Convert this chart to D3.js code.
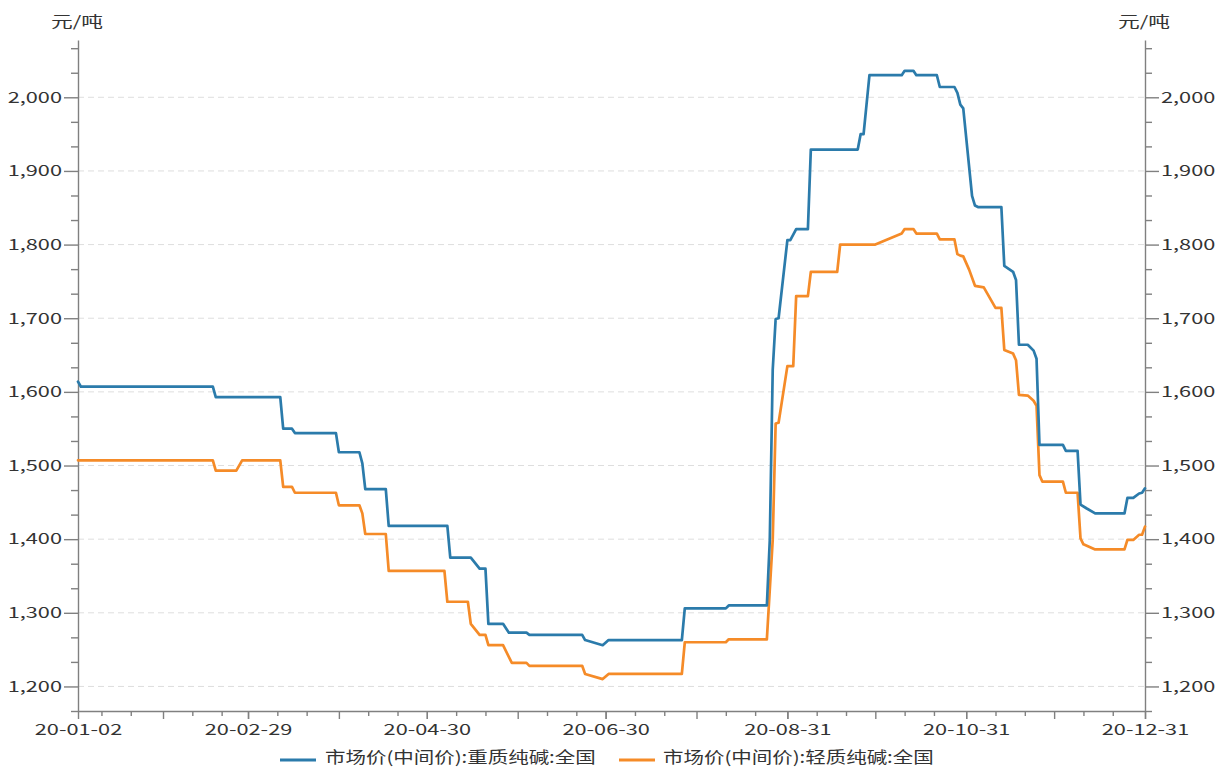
<!DOCTYPE html>
<html><head><meta charset="utf-8">
<script src="https://cdn.jsdelivr.net/npm/d3@7"></script>
<style>body{margin:0;background:#fff} svg{display:block}</style>
</head><body>
<svg id="chart" width="1215" height="767"></svg>
<script>
// ---------------- data ----------------
const heavyDates = ["2020-01-02","2020-01-03","2020-02-17","2020-02-18","2020-03-11","2020-03-12","2020-03-15","2020-03-16","2020-03-30","2020-03-31","2020-04-07","2020-04-08","2020-04-09","2020-04-16","2020-04-17","2020-05-07","2020-05-08","2020-05-15","2020-05-18","2020-05-20","2020-05-21","2020-05-26","2020-05-28","2020-06-03","2020-06-04","2020-06-22","2020-06-23","2020-06-29","2020-07-01","2020-07-26","2020-07-27","2020-08-10","2020-08-11","2020-08-24","2020-08-25","2020-08-26","2020-08-27","2020-08-28","2020-08-31","2020-09-01","2020-09-03","2020-09-07","2020-09-08","2020-09-24","2020-09-25","2020-09-26","2020-09-28","2020-10-09","2020-10-10","2020-10-13","2020-10-14","2020-10-21","2020-10-22","2020-10-27","2020-10-28","2020-10-29","2020-10-30","2020-11-02","2020-11-03","2020-11-04","2020-11-12","2020-11-13","2020-11-16","2020-11-17","2020-11-18","2020-11-21","2020-11-23","2020-11-24","2020-11-25","2020-12-03","2020-12-04","2020-12-08","2020-12-09","2020-12-11","2020-12-14","2020-12-24","2020-12-25","2020-12-27","2020-12-29","2020-12-30","2020-12-31"];
const heavyValues = [1614,1607,1607,1593,1593,1550,1550,1544,1544,1518,1518,1503,1468,1468,1418,1418,1375,1375,1360,1360,1285,1285,1273,1273,1270,1270,1263,1256,1263,1263,1306,1306,1310,1310,1399,1630,1699,1700,1806,1806,1821,1821,1929,1929,1950,1950,2030,2030,2036,2036,2030,2030,2014,2014,2006,1990,1985,1866,1853,1851,1851,1771,1763,1752,1664,1664,1656,1645,1528,1528,1520,1520,1447,1442,1435,1435,1456,1456,1462,1463,1469];

const lightDates = ["2020-01-02","2020-02-17","2020-02-18","2020-02-25","2020-02-27","2020-03-11","2020-03-12","2020-03-15","2020-03-16","2020-03-30","2020-03-31","2020-04-07","2020-04-08","2020-04-09","2020-04-16","2020-04-17","2020-05-06","2020-05-07","2020-05-14","2020-05-15","2020-05-18","2020-05-20","2020-05-21","2020-05-26","2020-05-29","2020-06-03","2020-06-04","2020-06-22","2020-06-23","2020-06-29","2020-07-01","2020-07-26","2020-07-27","2020-08-10","2020-08-11","2020-08-24","2020-08-26","2020-08-27","2020-08-28","2020-08-31","2020-09-02","2020-09-03","2020-09-07","2020-09-08","2020-09-17","2020-09-18","2020-09-30","2020-10-09","2020-10-10","2020-10-13","2020-10-14","2020-10-21","2020-10-22","2020-10-27","2020-10-28","2020-10-29","2020-10-30","2020-11-01","2020-11-03","2020-11-06","2020-11-10","2020-11-12","2020-11-13","2020-11-16","2020-11-17","2020-11-18","2020-11-21","2020-11-23","2020-11-24","2020-11-25","2020-11-26","2020-12-03","2020-12-04","2020-12-08","2020-12-09","2020-12-10","2020-12-14","2020-12-24","2020-12-25","2020-12-27","2020-12-29","2020-12-30","2020-12-31"];
const lightValues = [1507,1507,1493,1493,1507,1507,1471,1471,1463,1463,1446,1446,1435,1407,1407,1357,1357,1315,1315,1285,1270,1270,1256,1256,1232,1232,1228,1228,1217,1210,1217,1217,1260,1260,1264,1264,1399,1557,1558,1635,1635,1730,1730,1763,1763,1800,1800,1815,1821,1821,1815,1815,1807,1807,1787,1785,1784,1766,1744,1742,1714,1714,1657,1652,1643,1596,1595,1588,1581,1487,1478,1478,1463,1463,1401,1393,1386,1386,1399,1399,1406,1406,1417];

const seriesNames = ["市场价(中间价):重质纯碱:全国", "市场价(中间价):轻质纯碱:全国"];
const yTickValues = [1200,1300,1400,1500,1600,1700,1800,1900,2000];
const xTickDates = ["2020-01-02","2020-02-29","2020-04-30","2020-06-30","2020-08-31","2020-10-31","2020-12-31"];
const xTickLabels = ["20-01-02","20-02-29","20-04-30","20-06-30","20-08-31","20-10-31","20-12-31"];
const unitLabel = "元/吨";

// ---------------- layout / style ----------------
const L = 78, R = 1145, T = 40, B = 711;
const colors = ["#2b7bab", "#f58b28"];
const SX = 1.45;
const SXL = 1.28;
const FONT = "'Noto Sans CJK SC', 'Noto Sans', sans-serif";
const AXIS = "#808080";
const TEXT = "#333";

const parse = d3.timeParse("%Y-%m-%d");
const x = d3.scaleTime().domain([parse(xTickDates[0]), parse(xTickDates[xTickDates.length-1])]).range([L, R]);
const y = d3.scaleLinear().domain([1166.667, 2077.8]).range([B, T]);

const svg = d3.select("#chart").style("font-family", FONT);

// grid
svg.append("g").selectAll("line").data(yTickValues).join("line")
  .attr("x1", L).attr("x2", R)
  .attr("y1", d => y(d)).attr("y2", d => y(d))
  .attr("stroke", "#dedede").attr("stroke-width", 1).attr("stroke-dasharray", "6,4");

// minor y ticks
const yMinor = d3.range(0, 30).map(i => 1166.667 + i * 100 / 3)
  .filter(v => v <= 2077.8 && Math.abs(v / 100 - Math.round(v / 100)) > 0.01);

function styleAxis(g) {
  g.selectAll("path,line").attr("stroke", AXIS).attr("stroke-width", 1.4);
  g.selectAll("text").attr("fill", TEXT).style("font-size", "15px").style("font-family", FONT);
}

// left axis
const gl = svg.append("g").attr("transform", `translate(${L},0)`);
gl.append("g").call(d3.axisLeft(y).tickValues(yMinor).tickSize(7).tickSizeOuter(0).tickFormat(""))
  .call(g => g.select(".domain").remove()).call(styleAxis);
gl.append("g").call(d3.axisLeft(y).tickValues(yTickValues).tickSize(14).tickPadding(2).tickSizeOuter(0).tickFormat(d3.format(",")))
  .call(styleAxis)
  .call(g => g.selectAll("text").attr("x", -16 / SX).attr("transform", `scale(${SX},1)`));

// right axis
const gr = svg.append("g").attr("transform", `translate(${R},0)`);
gr.append("g").call(d3.axisRight(y).tickValues(yMinor).tickSize(7).tickSizeOuter(0).tickFormat(""))
  .call(g => g.select(".domain").remove()).call(styleAxis);
gr.append("g").call(d3.axisRight(y).tickValues(yTickValues).tickSize(14).tickPadding(2).tickSizeOuter(0).tickFormat(d3.format(",")))
  .call(styleAxis)
  .call(g => g.selectAll("text").attr("x", 16 / SX).attr("transform", `scale(${SX},1)`));

// bottom axis: minor ticks (10th, 20th, month end)
const xMinorLong = [], xMinorShort = [];
for (let m = 0; m < 12; m++) {
  [10, 20].forEach(dd => xMinorShort.push(new Date(2020, m, dd)));
  xMinorLong.push(new Date(2020, m + 1, 0));
}
const inDom = d => d >= x.domain()[0] && d <= x.domain()[1];
const gb = svg.append("g").attr("transform", `translate(0,${B})`);
gb.append("g").call(d3.axisBottom(x).tickValues(xMinorShort.filter(inDom)).tickSize(5).tickSizeOuter(0).tickFormat(""))
  .call(g => g.select(".domain").remove()).call(styleAxis);
gb.append("g").call(d3.axisBottom(x).tickValues(xMinorLong.filter(inDom)).tickSize(8).tickSizeOuter(0).tickFormat(""))
  .call(g => g.select(".domain").remove()).call(styleAxis);
gb.append("g").call(d3.axisBottom(x).tickValues(xTickDates.map(parse)).tickSize(8).tickPadding(5).tickSizeOuter(0)
    .tickFormat((d, i) => xTickLabels[i]))
  .call(styleAxis)
  .call(g => g.selectAll("text").attr("transform", `scale(${SX},1)`));

// unit labels
[L, R].forEach(px => {
  svg.append("text").text(unitLabel)
    .attr("transform", `translate(${px - 1},27) scale(${SX},1)`)
    .attr("text-anchor", "middle").attr("fill", TEXT).style("font-size", "15px");
});

// lines
const series = [
  heavyDates.map((d, i) => ({ date: parse(d), v: heavyValues[i] })),
  lightDates.map((d, i) => ({ date: parse(d), v: lightValues[i] }))
];
const line = d3.line().x(d => x(d.date)).y(d => y(d.v));
[1, 0].forEach(k => {
  svg.append("path").datum(series[k]).attr("d", line)
    .attr("fill", "none").attr("stroke", colors[k]).attr("stroke-width", 2.7)
    .attr("stroke-linejoin", "round").attr("stroke-linecap", "round");
});

// legend
const legendItems = [{ x: 280, tx: 325 }, { x: 619, tx: 663 }];
legendItems.forEach((it, k) => {
  svg.append("line").attr("x1", it.x).attr("x2", it.x + 36).attr("y1", 760).attr("y2", 760)
    .attr("stroke", colors[k]).attr("stroke-width", 3);
  svg.append("text").text(seriesNames[k])
    .attr("transform", `translate(${it.tx},763) scale(${SXL},1)`)
    .attr("fill", TEXT).style("font-size", "16px");
});
</script>
</body></html>
